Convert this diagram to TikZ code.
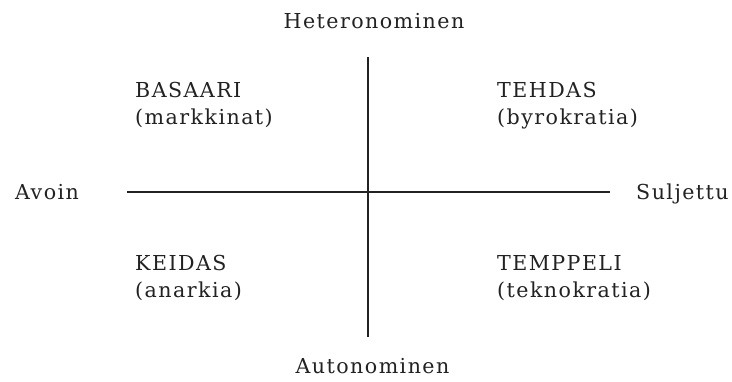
\documentclass[tikz,border=0pt]{standalone}
\usepackage{fontspec}
\setmainfont{DejaVu Serif}[LetterSpace=7]
\definecolor{ink}{HTML}{222222}
\begin{document}
\begin{tikzpicture}[x=1bp,y=-1bp,
  lbl/.style={inner sep=0pt,text=ink,font=\fontsize{20.6bp}{27bp}\selectfont},
  axis/.style={draw=ink,line width=2.8bp}]
\useasboundingbox (0,0) rectangle (732,381);
% axis end points
\coordinate (vtop) at (368,57);
\coordinate (vbot) at (368,337);
\coordinate (hleft) at (127,192);
\coordinate (hright) at (610,192);
\draw[axis] (vtop) -- (vbot);
\draw[axis] (hleft) -- (hright);
% axis labels
\node[lbl,anchor=base] (hetero) at (374,28) {Heteronominen};
\node[lbl,anchor=base] (auto) at (372.5,373) {Autonominen};
\node[lbl,anchor=base west] (avoin) at (15,199) {Avoin};
\node[lbl,anchor=base west] (suljettu) at (636,199) {Suljettu};
% quadrant labels
\node[lbl,anchor=base west] (basaari) at (135,97) {BASAARI};
\node[lbl,anchor=base west] (markkinat) at (135,124) {(markkinat)};
\node[lbl,anchor=base west] (tehdas) at (497,97) {TEHDAS};
\node[lbl,anchor=base west] (byrokratia) at (497,124) {(byrokratia)};
\node[lbl,anchor=base west] (keidas) at (135,270) {KEIDAS};
\node[lbl,anchor=base west] (anarkia) at (135,297) {(anarkia)};
\node[lbl,anchor=base west] (temppeli) at (497,270) {TEMPPELI};
\node[lbl,anchor=base west] (teknokratia) at (497,297) {(teknokratia)};
\end{tikzpicture}
\end{document}
